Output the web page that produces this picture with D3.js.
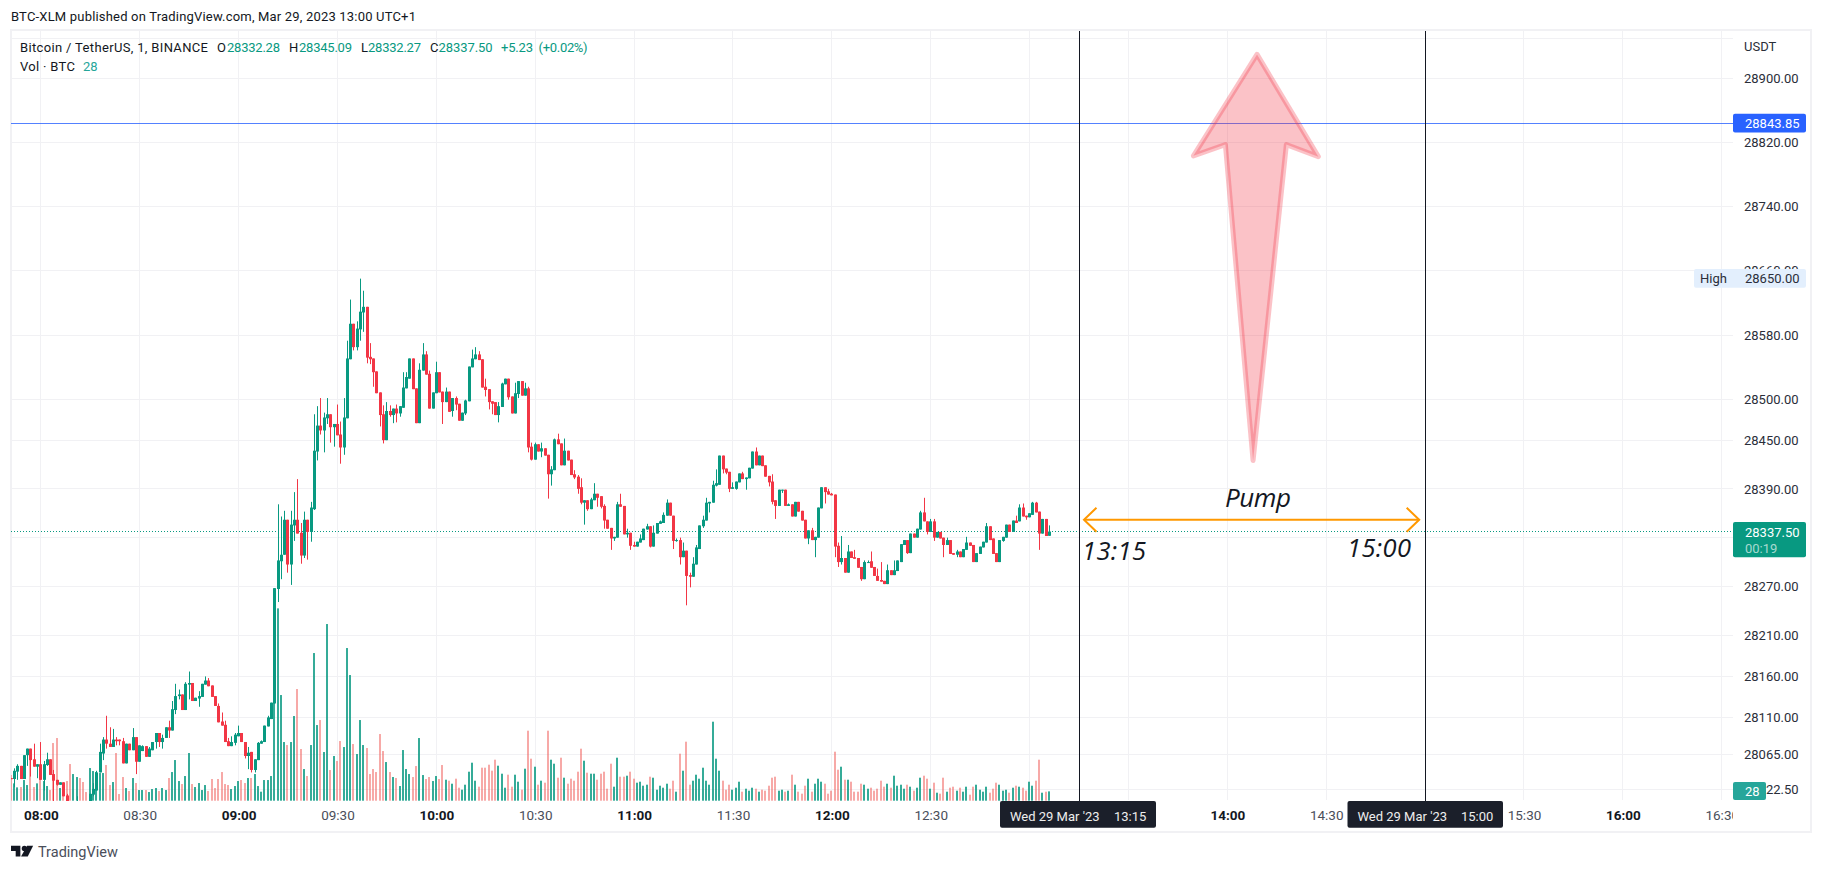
<!DOCTYPE html>
<html><head><meta charset="utf-8">
<script src="https://cdn.jsdelivr.net/npm/d3@7/dist/d3.min.js"></script>
<style>html,body{margin:0;padding:0;background:#fff;overflow:hidden}svg{display:block}text{font-family:Roboto,sans-serif}</style>
</head><body><svg id="c" width="1822" height="871"></svg>
<script>
const firstMinute = 471; // 07:51, one candle per minute
const opens=[28036,28035,28044,28051,28035,28064,28072,28059,28050,28053,
28034,28052,28059,28041,28034,28028,28031,28015,28008,28003,
28005,28006,28002,28000,28008,28016,28021,28043,28066,28083,
28078,28074,28083,28083,28081,28054,28078,28070,28086,28056,
28069,28075,28062,28070,28080,28091,28080,28085,28098,28094,
28119,28136,28138,28119,28150,28152,28130,28133,28135,28150,
28155,28149,28136,28124,28105,28101,28081,28075,28079,28087,
28091,28080,28063,28068,28046,28058,28078,28080,28099,28108,
28127,28267,28301,28309,28352,28297,28345,28352,28336,28308,
28352,28337,28365,28436,28468,28462,28477,28482,28466,28470,
28457,28441,28477,28550,28594,28565,28587,28608,28615,28553,
28551,28535,28509,28482,28450,28486,28481,28489,28483,28490,
28514,28526,28551,28514,28471,28536,28556,28532,28489,28508,
28534,28510,28497,28510,28486,28502,28495,28474,28483,28498,
28540,28550,28556,28550,28516,28513,28498,28497,28481,28491,
28519,28526,28504,28483,28507,28523,28505,28514,28442,28426,
28445,28436,28440,28432,28408,28413,28451,28446,28419,28437,
28426,28408,28405,28392,28373,28376,28365,28376,28384,28381,
28369,28352,28342,28329,28330,28371,28369,28334,28336,28321,
28319,28324,28327,28340,28344,28319,28335,28347,28348,28357,
28373,28357,28326,28327,28306,28314,28284,28282,28297,28316,
28344,28351,28372,28373,28394,28395,28431,28415,28411,28390,
28390,28398,28409,28402,28403,28415,28436,28419,28431,28419,
28406,28399,28376,28369,28388,28389,28369,28371,28356,28374,
28363,28352,28329,28339,28327,28330,28366,28392,28387,28384,
28383,28320,28300,28305,28287,28313,28306,28305,28294,28279,
28299,28301,28294,28283,28278,28277,28273,28290,28284,28289,
28300,28321,28327,28311,28335,28330,28340,28361,28350,28337,
28350,28330,28337,28330,28321,28327,28311,28309,28313,28306,
28315,28324,28321,28300,28310,28318,28324,28344,28329,28311,
28300,28326,28330,28346,28337,28351,28350,28367,28357,28355,
28358,28373,28362,28335,28353,28332.28];
const highs=[28036,28048,28053,28051,28064,28072,28072,28078,28053,28080,
28057,28067,28059,28046,28034,28031,28031,28017,28008,28007,
28014,28006,28003,28002,28017,28030,28045,28078,28086,28112,
28098,28096,28086,28083,28085,28078,28078,28097,28086,28076,
28076,28075,28074,28080,28091,28091,28089,28098,28106,28130,
28151,28144,28138,28153,28166,28152,28134,28142,28151,28160,
28158,28149,28136,28127,28116,28106,28085,28087,28091,28100,
28091,28080,28074,28068,28059,28080,28082,28100,28112,28128,
28268,28371,28356,28363,28352,28363,28386,28402,28348,28362,
28352,28374,28482,28492,28502,28484,28502,28482,28470,28494,
28473,28502,28573,28624,28594,28597,28650,28635,28615,28570,
28551,28535,28509,28493,28497,28493,28489,28494,28492,28534,
28534,28551,28551,28514,28545,28570,28560,28536,28509,28547,
28534,28510,28515,28510,28502,28504,28495,28484,28500,28541,
28562,28565,28560,28550,28526,28513,28498,28497,28497,28521,
28526,28526,28504,28521,28523,28523,28521,28516,28447,28447,
28445,28447,28440,28432,28418,28452,28458,28446,28452,28437,
28426,28413,28407,28403,28376,28376,28379,28397,28384,28381,
28371,28352,28342,28331,28374,28384,28369,28341,28336,28325,
28325,28334,28341,28347,28344,28345,28348,28351,28361,28377,
28373,28357,28329,28330,28324,28314,28287,28306,28321,28345,
28357,28379,28374,28400,28414,28431,28431,28415,28411,28398,
28399,28409,28411,28404,28416,28436,28441,28431,28431,28419,
28406,28408,28376,28389,28389,28389,28372,28371,28374,28374,
28363,28352,28339,28342,28331,28367,28392,28392,28390,28385,
28383,28324,28332,28305,28321,28313,28315,28305,28294,28302,
28302,28313,28294,28292,28300,28277,28297,28290,28302,28302,
28322,28327,28327,28335,28335,28341,28363,28379,28350,28353,
28353,28337,28337,28330,28330,28327,28311,28315,28313,28316,
28331,28324,28321,28311,28319,28325,28348,28344,28329,28311,
28327,28331,28346,28346,28351,28357,28371,28372,28357,28360,
28374,28374,28362,28353,28353,28345.09];
const lows=[28035,28025,28034,28035,28035,28051,28038,28050,28036,28034,
28021,28051,28040,28005,28027,28028,28014,28005,28000,28000,
28000,28000,28000,27996,28005,28014,28021,28043,28058,28072,
28074,28074,28076,28076,28054,28054,28070,28070,28041,28056,
28069,28062,28062,28070,28072,28074,28072,28085,28085,28094,
28114,28132,28119,28119,28132,28130,28130,28123,28135,28150,
28148,28135,28124,28104,28100,28080,28075,28075,28076,28087,
28080,28060,28047,28043,28043,28058,28078,28080,28099,28108,
28127,28251,28279,28309,28287,28272,28326,28335,28298,28305,
28303,28325,28364,28425,28457,28435,28470,28447,28442,28456,
28421,28432,28477,28550,28561,28561,28573,28584,28545,28544,
28516,28508,28467,28446,28450,28479,28471,28472,28479,28490,
28514,28526,28513,28471,28471,28536,28531,28489,28489,28508,
28509,28470,28497,28485,28479,28487,28474,28474,28481,28498,
28540,28550,28549,28515,28504,28488,28482,28481,28472,28491,
28519,28500,28483,28483,28502,28505,28505,28435,28425,28426,
28436,28429,28431,28378,28394,28413,28445,28419,28419,28425,
28407,28402,28384,28371,28346,28363,28365,28376,28368,28366,
28341,28341,28315,28326,28330,28368,28334,28330,28315,28319,
28319,28324,28327,28340,28318,28319,28335,28347,28348,28357,
28357,28316,28325,28297,28306,28247,28269,28282,28297,28316,
28342,28351,28361,28373,28393,28395,28409,28408,28386,28390,
28389,28398,28402,28389,28403,28415,28419,28419,28418,28405,
28393,28371,28353,28369,28385,28369,28369,28356,28356,28362,
28351,28329,28322,28327,28306,28330,28366,28372,28383,28382,
28306,28294,28297,28287,28287,28305,28304,28293,28277,28279,
28299,28293,28283,28277,28276,28273,28273,28284,28284,28289,
28300,28321,28310,28311,28330,28330,28340,28350,28334,28337,
28326,28330,28329,28306,28321,28310,28309,28306,28306,28306,
28315,28320,28300,28300,28310,28318,28324,28327,28310,28300,
28300,28325,28330,28337,28337,28348,28350,28356,28352,28355,
28358,28361,28315,28335,28332,28332.27];
const closes=[28035,28045,28051,28035,28064,28072,28058,28050,28053,28034,
28053,28059,28040,28033,28028,28031,28014,28008,28003,28006,
28006,28002,28000,27998,28017,28023,28043,28068,28083,28078,
28074,28083,28081,28081,28054,28078,28070,28086,28056,28076,
28075,28062,28072,28080,28091,28080,28085,28098,28094,28120,
28136,28138,28119,28151,28152,28130,28134,28136,28151,28155,
28148,28135,28124,28104,28100,28080,28075,28080,28089,28091,
28080,28063,28067,28046,28059,28079,28081,28100,28110,28128,
28268,28302,28309,28352,28297,28346,28352,28335,28308,28352,
28337,28367,28437,28468,28462,28478,28482,28466,28470,28456,
28441,28478,28551,28594,28565,28588,28609,28615,28552,28550,
28534,28508,28481,28450,28486,28481,28489,28483,28492,28515,
28528,28551,28513,28471,28537,28556,28531,28489,28509,28534,
28509,28497,28510,28485,28502,28494,28474,28484,28499,28541,
28551,28556,28549,28515,28512,28497,28495,28481,28492,28520,
28526,28503,28483,28508,28523,28505,28514,28441,28426,28445,
28436,28440,28431,28408,28414,28451,28445,28419,28437,28425,
28407,28404,28390,28373,28376,28365,28377,28384,28379,28368,
28351,28341,28329,28331,28371,28368,28334,28336,28320,28319,
28325,28329,28341,28344,28319,28336,28348,28350,28358,28373,
28357,28326,28327,28306,28314,28283,28282,28298,28318,28345,
28352,28373,28374,28395,28397,28431,28414,28410,28390,28392,
28399,28409,28402,28404,28416,28436,28419,28431,28418,28405,
28398,28374,28369,28389,28389,28369,28371,28356,28374,28362,
28351,28329,28339,28327,28331,28367,28392,28386,28383,28382,
28319,28300,28305,28287,28313,28305,28304,28293,28279,28300,
28300,28293,28283,28277,28276,28273,28290,28284,28290,28302,
28322,28327,28311,28335,28330,28341,28361,28350,28337,28350,
28330,28337,28329,28321,28327,28310,28309,28313,28306,28316,
28324,28320,28300,28311,28319,28325,28344,28327,28310,28300,
28327,28331,28346,28337,28351,28348,28367,28356,28355,28360,
28373,28361,28335,28353,28332,28337.5];
const volumes=[77,52,40,41,62,47,132,41,52,89,
59,44,32,173,188,38,52,59,110,80,
71,68,56,26,98,89,86,83,83,107,
47,56,143,20,71,38,29,68,53,32,
32,32,26,35,38,29,38,32,68,86,
122,59,50,74,143,50,41,53,32,47,
29,65,38,65,86,50,47,35,44,59,
62,53,68,68,80,44,27,62,62,74,
577,577,317,176,167,176,254,335,155,95,
74,167,443,227,242,146,530,92,134,119,
179,161,458,377,170,140,242,167,158,80,
95,86,200,149,116,86,71,68,44,152,
95,80,71,104,188,77,65,71,59,74,
65,107,63,60,51,66,39,33,48,87,
114,60,42,99,99,108,90,123,105,81,
39,78,42,78,57,33,96,210,126,102,
48,60,54,210,123,111,69,129,69,51,
66,60,87,156,120,84,81,81,63,81,
87,36,111,42,129,72,72,75,87,66,
54,57,45,48,72,69,33,45,39,51,
36,60,27,141,90,177,48,60,78,66,
99,60,48,237,126,90,60,33,48,33,
39,57,27,36,30,39,36,27,33,30,
45,69,72,30,33,27,30,78,48,27,
21,45,66,27,51,66,57,51,21,30,
147,93,102,63,63,57,27,27,51,48,
36,39,30,36,60,42,51,39,75,45,
48,36,48,42,30,39,69,75,66,36,
54,24,21,69,27,39,42,30,39,27,
42,18,42,48,33,27,42,24,36,54,
48,30,33,24,39,45,42,39,30,57,
45,60,123,24,27,28];

const priceGrid=[28950,28900,28820,28740,28660,28580,28500,28450,28390,28330,28270,28210,28160,28110,28065,28022.5];
const priceLabels=[28900,28820,28740,28660,28580,28500,28450,28390,28270,28210,28160,28110,28065,28022.5];
const timeGrid=[480,510,540,570,600,630,660,690,720,750,780,810,840,870,900,930,960,990];
const timeLabels=[480,510,540,570,600,630,660,690,720,750,840,870,930,960,990];
const lastPrice=28337.5, alertPrice=28843.85, highPrice=28650;
const startLine=795, endLine=900; // 13:15 and 15:00
const arrowPoints=[[849,28930],[867.6,28802],[857.9,28817],[847.8,28425],[839.4,28817],[829.7,28803]];
const spanMinutes=[796.5,898.2], spanPrice=28352;
const titleText="BTC-XLM published on TradingView.com, Mar 29, 2023 13:00 UTC+1";
const legendPieces=[["Bitcoin / TetherUS, 1, BINANCE",20,"#131722",188],["O",217,"#131722"],["28332.28",227,"#089981",53],["H",289,"#131722"],["28345.09",299,"#089981",53],["L",361,"#131722"],["28332.27",368,"#089981",53],["C",430,"#131722"],["28337.50",438.6,"#089981",54],["+5.23",501,"#089981",32],["(+0.02%)",538.6,"#089981",49]];

const L=11,R=1733,T=31,B=800,UP="#089981",DOWN="#f23645",GRID="#f1f1f4";
const svg=d3.select("#c");
const x=d3.scaleLinear().domain([480,990]).range([40.8,40.8+3.296*510]);
const y=d3.scaleLog().domain([28900,28022.5]).range([78.3,789.3]);
const v=d3.scaleLinear().domain([0,600]).range([800.7,600.7]);
const defs=svg.append("defs");
defs.append("clipPath").attr("id","pane").append("rect").attr("x",L).attr("y",T).attr("width",R-L).attr("height",B-T+1);
defs.append("clipPath").attr("id","taxis").append("rect").attr("x",L).attr("y",B).attr("width",R-L).attr("height",31);
const fmtT=m=>d3.format("02")(Math.floor(m/60))+":"+d3.format("02")(m%60);
const sharp=p=>Math.floor(p)+0.5;

// frame and title
svg.append("rect").attr("x",11).attr("y",30).attr("width",1800).attr("height",802).attr("fill","none").attr("stroke",GRID).attr("stroke-width",2);
svg.append("text").attr("x",11).attr("y",21).attr("font-size",13).attr("fill","#131722").attr("textLength",405).text(titleText);

// grid
const g=svg.append("g").attr("clip-path","url(#pane)");
g.selectAll(".gh").data(priceGrid).join("line").attr("x1",L).attr("x2",R).attr("y1",d=>sharp(y(d))).attr("y2",d=>sharp(y(d))).attr("stroke",GRID);
g.selectAll(".gv").data(timeGrid).join("line").attr("y1",T).attr("y2",B).attr("x1",d=>sharp(x(d))).attr("x2",d=>sharp(x(d))).attr("stroke",GRID);

// price lines
g.append("line").attr("x1",L).attr("x2",R).attr("y1",sharp(y(alertPrice))).attr("y2",sharp(y(alertPrice))).attr("stroke","#2962ff").attr("stroke-opacity",.8);
g.append("line").attr("x1",L).attr("x2",R).attr("y1",sharp(y(lastPrice))).attr("y2",sharp(y(lastPrice))).attr("stroke",UP).attr("stroke-dasharray","1 2");

// volume + candles
const idx=d3.range(opens.length);
const minute=i=>firstMinute+i;
const col=i=>closes[i]>=opens[i];
g.selectAll(".vol").data(idx).join("rect").attr("x",i=>Math.floor(x(minute(i)))-1).attr("width",2)
 .attr("y",i=>v(volumes[i])).attr("height",i=>v(0)-v(volumes[i]))
 .attr("fill",i=>col(i)?"rgba(8,153,129,.82)":"rgba(239,83,80,.5)");
g.selectAll(".wick").data(idx).join("rect").attr("x",i=>Math.floor(x(minute(i)))).attr("width",1)
 .attr("y",i=>y(highs[i])).attr("height",i=>y(lows[i])-y(highs[i])).attr("fill",i=>col(i)?UP:DOWN);
g.selectAll(".body").data(idx).join("rect").attr("x",i=>Math.floor(x(minute(i)))-1).attr("width",3)
 .attr("y",i=>y(Math.max(opens[i],closes[i]))).attr("height",i=>Math.max(1,Math.abs(y(opens[i])-y(closes[i])))).attr("fill",i=>col(i)?UP:DOWN);

// drawings
const line=d3.line().x(d=>x(d[0])).y(d=>y(d[1]));
g.append("path").attr("d",line(arrowPoints)+"Z").attr("fill","rgba(242,54,69,.3)").attr("stroke","rgba(242,54,69,.3)").attr("stroke-width",5).attr("stroke-linejoin","round");
[startLine,endLine].forEach(m=>g.append("line").attr("x1",sharp(x(m))).attr("x2",sharp(x(m))).attr("y1",T-1).attr("y2",B+1).attr("stroke","#131722"));
const sx0=x(spanMinutes[0]),sx1=x(spanMinutes[1]),sy=y(spanPrice);
const orange=g.append("g").attr("fill","none").attr("stroke","#ff9800").attr("stroke-width",2);
orange.append("line").attr("x1",sx0).attr("x2",sx1).attr("y1",sy).attr("y2",sy);
orange.append("path").attr("d",`M${sx0+12.5},${sy-12}L${sx0},${sy}L${sx0+12.5},${sy+12}`);
orange.append("path").attr("d",`M${sx1-12.5},${sy-12}L${sx1},${sy}L${sx1-12.5},${sy+12}`);
const it=(t,m,p,s,w)=>g.append("text").attr("x",x(m)).attr("y",y(p)).attr("font-size",s).attr("font-style","italic").attr("fill","#131722").style("font-family","'Open Sans'").attr("textLength",w).text(t);
it("Pump",839.3,28368,26,66); it("13:15",795.9,28302.6,25.5,64); it("15:00",876.3,28306,25.5,64);

// legend
legendPieces.forEach(p=>{const t=svg.append("text").attr("x",p[1]).attr("y",52).attr("font-size",13).attr("fill",p[2]).text(p[0]); if(p[3]) t.attr("textLength",p[3]);});
svg.append("text").attr("x",20).attr("y",71).attr("font-size",13).attr("fill","#131722").attr("textLength",55).text("Vol · BTC");
svg.append("text").attr("x",83).attr("y",71).attr("font-size",13).attr("fill","#26a69a").text("28");

// axes
const ya=svg.append("g").attr("transform",`translate(${R},0)`).call(d3.axisRight(y).tickValues(priceLabels).tickSize(0).tickPadding(11).tickFormat(d3.format(".2f")));
ya.select(".domain").remove();
ya.selectAll("text").attr("font-size",13).attr("fill","#2a2e39").style("font-family","Roboto");
svg.append("text").attr("x",1744).attr("y",51).attr("font-size",13).attr("fill","#2a2e39").text("USDT");
const xa=svg.append("g").attr("clip-path","url(#taxis)").append("g").attr("transform",`translate(0,${B})`).call(d3.axisBottom(x).tickValues(timeLabels).tickSize(0).tickPadding(10).tickFormat(fmtT));
xa.select(".domain").remove();
xa.selectAll("text").attr("font-size",13.5).style("font-family","Roboto").attr("fill",d=>d%60===0?"#131722":"#4a4e5a").attr("font-weight",d=>d%60===0?700:400);

// price labels
const box=(x0,x1,y0,y1,f)=>svg.append("rect").attr("x",x0).attr("y",y0).attr("width",x1-x0).attr("height",y1-y0).attr("fill",f).attr("rx",2);
const lab=(t,xp,yp,f,o)=>svg.append("text").attr("x",xp).attr("y",yp).attr("dy",".36em").attr("font-size",13).attr("fill",f).attr("fill-opacity",o||1).text(t);
const ay=y(alertPrice),hy=y(highPrice),ly=y(lastPrice);
box(R,1806,ay-9.3,ay+9.3,"#2962ff"); lab(d3.format(".2f")(alertPrice),1745,ay,"#fff");
box(1694,1806,hy-9.7,hy+9,"#e3effd"); lab("High",1700,hy,"#2a2e39"); lab(d3.format(".2f")(highPrice),1745,hy,"#2a2e39");
box(R,1806,ly-9.6,ly+25.8,UP); lab(d3.format(".2f")(lastPrice),1745,ly+0.7,"#fff"); lab("00:19",1745,ly+16.7,"#fff",.65);
box(R,1766,782,800,"#26a69a"); lab(String(volumes[volumes.length-1]),1745,791,"#fff");
// crosshair time labels
[[startLine,1000,1156],[endLine,1347.5,1503]].forEach(a=>{
  box(a[1],a[2],801,827.7,"#1b1f2a");
  lab("Wed 29 Mar '23",a[1]+10,816,"#eeeeee");
  lab(fmtT(a[0]),a[2]-10-32,816,"#eeeeee");
});

// footer logo
const logo=svg.append("g").attr("transform","translate(11,841.7) scale(.67)").attr("fill","#131722");
logo.append("path").attr("d","M14 6H0v8h7v8h7V6Z");
logo.append("circle").attr("cx",20).attr("cy",10).attr("r",4);
logo.append("path").attr("d","M33 6H24l-9 16h10l8-16Z");
svg.append("text").attr("x",38).attr("y",857).attr("font-size",14.5).attr("fill","#4a4e5a").text("TradingView");
</script></body></html>
